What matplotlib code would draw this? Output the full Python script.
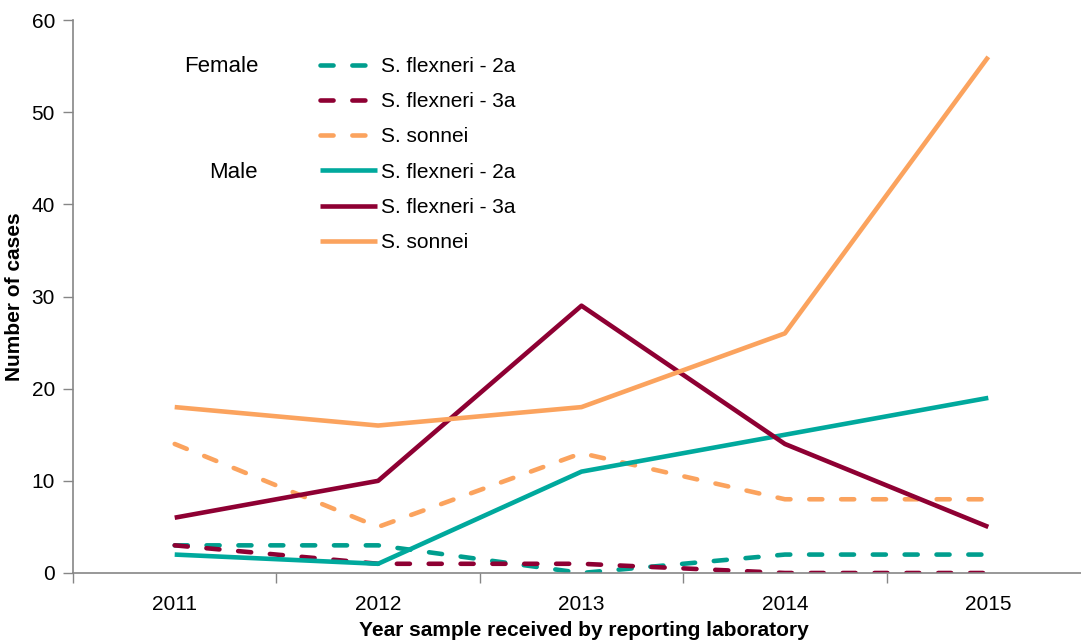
import matplotlib
matplotlib.use("Agg")
import matplotlib.pyplot as plt

years = ["2011", "2012", "2013", "2014", "2015"]
female_2a = [3, 3, 0, 2, 2]
female_3a = [3, 1, 1, 0, 0]
female_sonnei = [14, 5, 13, 8, 8]
male_2a = [2, 1, 11, 15, 19]
male_3a = [6, 10, 29, 14, 5]
male_sonnei = [18, 16, 18, 26, 56]
labels = ["S. flexneri - 2a", "S. flexneri - 3a", "S. sonnei"]

teal = "#00A99D"
teal_d = "#009E8E"
red = "#8E0033"
orange = "#FBA35E"

plt.rcParams['font.family'] = ['Liberation Sans', 'DejaVu Sans']

W, H = 1081, 642
fig = plt.figure(figsize=(W / 100, H / 100), dpi=100)
x0, x1, y0, y1 = 73, 1090, 20, 573
ax = fig.add_axes([x0 / W, 1 - y1 / H, (x1 - x0) / W, (y1 - y0) / H])

xs = list(range(len(years)))
lw = 3.3
dash = (2.85, 4.1)
handles = []
for vals, c in [(female_2a, teal_d), (female_3a, red), (female_sonnei, orange)]:
    l, = ax.plot(xs, vals, color=c, lw=lw, dashes=dash, dash_capstyle='round',
                 solid_joinstyle='miter')
    handles.append(l)
for vals, c in [(male_2a, teal), (male_3a, red), (male_sonnei, orange)]:
    l, = ax.plot(xs, vals, color=c, lw=lw, solid_capstyle='butt')
    handles.append(l)

fs = 15
ax.set_xlim(-0.5, len(years) - 0.5)
ax.set_ylim(0, 60)
ax.set_yticks(range(0, 61, 10))
ax.set_xticks([i - 0.5 for i in range(len(years) + 1)], minor=False)
ax.set_xticklabels([])
ax.set_xticks(xs, minor=True)
ax.set_xticklabels(years, minor=True)
ax.tick_params(axis='x', which='minor', length=0, labelsize=fs, pad=16)
ax.tick_params(axis='x', which='major', length=7, color='#868686', width=1)
ax.tick_params(axis='y', length=7, color='#868686', width=1, labelsize=fs, pad=6)
for s in ['top', 'right']:
    ax.spines[s].set_visible(False)
for s in ['left', 'bottom']:
    ax.spines[s].set_color('#868686')
    ax.spines[s].set_linewidth(1.2)

fig.text(584 / W, 1 - 630 / H, "Year sample received by reporting laboratory",
         ha='center', va='center', fontsize=fs, fontweight='bold')
fig.text(15 / W, 1 - 297 / H, "Number of cases", ha='center', va='center',
         rotation=90, fontsize=fs, fontweight='bold')

leg = fig.legend(handles, labels + labels, loc='upper left',
                 bbox_to_anchor=(320 / W, 1 - 57 / H), frameon=False,
                 fontsize=fs, handlelength=2.75, handletextpad=0.2,
                 labelspacing=0.78, borderpad=0, borderaxespad=0)

fig.text(258 / W, 1 - 67 / H, "Female", ha='right', va='center', fontsize=16)
fig.text(258 / W, 1 - 173 / H, "Male", ha='right', va='center', fontsize=16)

fig.savefig("out.png", dpi=100)
